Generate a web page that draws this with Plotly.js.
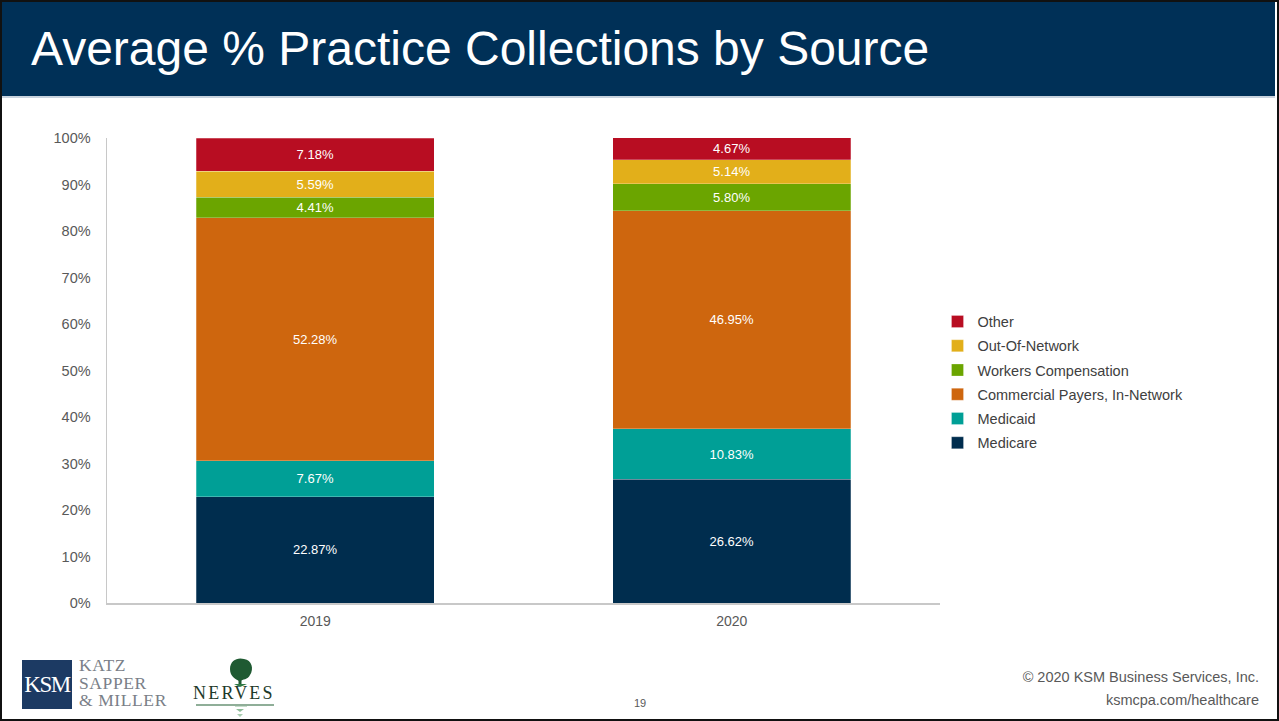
<!DOCTYPE html>
<html>
<head>
<meta charset="utf-8">
<script src="https://cdn.plot.ly/plotly-3.0.1.min.js"></script>
<style>
  html, body { margin:0; padding:0; width:1279px; height:721px; overflow:hidden; background:#fff; font-family: "Liberation Sans", Arial, sans-serif; }
  #slide { position:absolute; left:0; top:0; width:1279px; height:721px; box-sizing:border-box; border:2px solid #111; }
  #header { position:absolute; left:2px; top:2px; width:1273px; height:94px; background:#003057; border-bottom:2px solid #c9d3de; }
  #title { position:absolute; left:29px; top:21px; color:#fff; font-size:48px; line-height:52px; white-space:nowrap; }
  #chart { position:absolute; left:0; top:0; width:1279px; height:721px; }
  .foot { position:absolute; color:#595959; font-size:14.5px; white-space:nowrap; }
  #ksmbox { position:absolute; left:22px; top:660px; width:50px; height:49px; background:#1c3a63; color:#fff; font-family:"Liberation Serif", serif; font-size:23px; line-height:49px; text-align:center; letter-spacing:-1.5px; }
  .ksmline { position:absolute; left:79px; color:#7a8088; font-family:"Liberation Serif", serif; font-size:17.5px; line-height:17.5px; letter-spacing:0.6px; white-space:nowrap; }
  #nerves { position:absolute; left:193px; top:684px; color:#1e3a2a; font-family:"Liberation Serif", serif; font-size:18px; line-height:18px; letter-spacing:2.2px; white-space:nowrap; }
</style>
</head>
<body>
<div id="slide"></div>
<div id="chart"></div>
<div id="header"><div id="title">Average % Practice Collections by Source</div></div>
<div id="ksmbox">KSM</div>
<div class="ksmline" style="top:657px;">KATZ</div>
<div class="ksmline" style="top:674.5px;">SAPPER</div>
<div class="ksmline" style="top:692px;">&amp; MILLER</div>
<svg style="position:absolute;left:222px;top:657px" width="40" height="62">
  <path d="M8 12 C8 3 16 0 22 2 C30 3 32 12 28 18 C26 23 20 22 19 24 L17 24 C14 22 8 20 8 12 Z" fill="#1f5a32"/>
  <rect x="16.5" y="22" width="3" height="6" fill="#1f5a32"/>
  <path d="M12 27 L25 27 L18 30 Z" fill="#2f7a45"/>
  <rect x="13" y="48" width="12" height="1.5" fill="#8dbb98"/>
  <path d="M14 52 L22 52 L18 55 Z" fill="#8dbb98"/>
  <path d="M15 57 L21 57 L18 60 Z" fill="#a9cdb1"/>
</svg>
<div id="nerves">NERVES</div>
<div style="position:absolute;left:196px;top:704px;width:78px;height:1.5px;background:#8fae98;"></div>
<div class="foot" style="right:20px; top:669px;">© 2020 KSM Business Services, Inc.</div>
<div class="foot" style="right:20px; top:692px;">ksmcpa.com/healthcare</div>
<div class="foot" style="left:634px; top:697px; font-size:11px;">19</div>
<script>
const categories = ["2019", "2020"];
const seriesNames = ["Medicare", "Medicaid", "Commercial Payers, In-Network", "Workers Compensation", "Out-Of-Network", "Other"];
const medicare = [22.87, 26.62];
const medicaid = [7.67, 10.83];
const commercial = [52.28, 46.95];
const workers = [4.41, 5.80];
const outOfNetwork = [5.59, 5.14];
const other = [7.18, 4.67];
const seriesValues = [medicare, medicaid, commercial, workers, outOfNetwork, other];
const colors = ["#002D4E", "#009F96", "#CE660E", "#6BA500", "#E2AF1A", "#B80D22"];
const yTicks = [0,10,20,30,40,50,60,70,80,90,100];
const yTickLabels = yTicks.map(v => v + "%");

const traces = seriesNames.map((name, i) => ({
  type: "bar",
  name: name,
  x: categories,
  y: seriesValues[i],
  legendgroup: "g" + i,
  legendrank: 10 - i,
  marker: { color: colors[i], line: { color: "rgba(255,255,255,0.5)", width: 0.5 } },
  text: seriesValues[i].map(v => v.toFixed(2) + "%"),
  textposition: "inside",
  insidetextanchor: "middle",
  textangle: 0,
  textfont: { color: "#ffffff", size: 13, family: "Liberation Sans, Arial, sans-serif" },
  constraintext: "none",
  hoverinfo: "none"
}));

const layout = {
  width: 1279, height: 721,
  margin: { l: 107, r: 339, t: 138, b: 118 },
  paper_bgcolor: "rgba(0,0,0,0)",
  plot_bgcolor: "rgba(0,0,0,0)",
  barmode: "stack",
  bargap: 0.429,
  showlegend: true,
  legend: {
    x: 0.997, xanchor: "left", y: 0.474, yanchor: "middle",
    traceorder: "grouped",
    tracegroupgap: 2.4,
    font: { size: 14.5, color: "#404040", family: "Liberation Sans, Arial, sans-serif" },
    itemwidth: 30, bgcolor: "rgba(0,0,0,0)"
  },
  xaxis: {
    type: "category",
    showline: true, linecolor: "#c8c8c8", linewidth: 1.5,
    ticks: "", showgrid: false, zeroline: false,
    tickfont: { size: 14, color: "#595959", family: "Liberation Sans, Arial, sans-serif" },
    ticklabelstandoff: 5
  },
  yaxis: {
    range: [0, 100], tickvals: yTicks, ticktext: yTickLabels,
    showline: true, linecolor: "#c8c8c8", linewidth: 1.5,
    showgrid: false, zeroline: false, ticks: "",
    tickfont: { size: 14.5, color: "#595959", family: "Liberation Sans, Arial, sans-serif" },
    ticklabelstandoff: 12
  }
};
Plotly.newPlot("chart", traces, layout, { displayModeBar: false, staticPlot: true });
</script>
</body>
</html>
